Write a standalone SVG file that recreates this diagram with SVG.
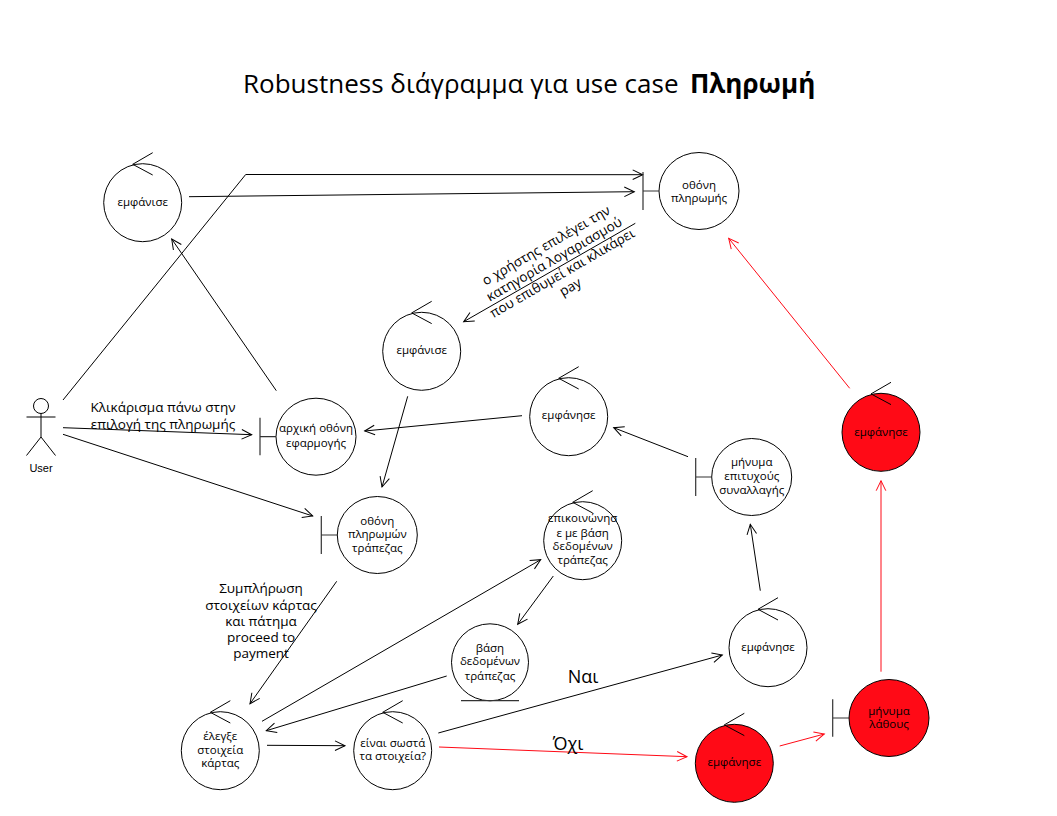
<svg xmlns="http://www.w3.org/2000/svg" width="1057" height="816" viewBox="0 0 1057 816">
<style>
text{font-family:"Open Sans","Noto Sans",sans-serif;fill:#000;text-anchor:middle}
.n{font-size:11.5px}
.l{font-size:13.500px}
.c{fill:#fff;stroke:#000;stroke-width:1}
.r{fill:#ff0a16}
.s{fill:none;stroke:#000;stroke-width:1}
.b{fill:none;stroke:#333;stroke-width:1.2}
.k{fill:none;stroke:#000;stroke-width:1;marker-end:url(#a)}
.e{fill:none;stroke:#ff0a16;stroke-width:1;marker-end:url(#ar)}
</style>
<defs>
<marker id="a" markerUnits="userSpaceOnUse" markerWidth="14" markerHeight="14" refX="11" refY="6" orient="auto"><path d="M1 1.2L11 6L1 10.8" fill="none" stroke="#000"/></marker>
<marker id="ar" markerUnits="userSpaceOnUse" markerWidth="14" markerHeight="14" refX="11" refY="6" orient="auto"><path d="M1 1.2L11 6L1 10.8" fill="none" stroke="#ff0a16"/></marker>
</defs>
<rect width="1057" height="816" fill="#fff"/>
<text x="243" y="93" font-size="26" style="text-anchor:start">Robustness διάγραμμα για use case</text>
<text x="690" y="93" font-size="26" font-weight="700" style="text-anchor:start">Πληρωμή</text>
<g id="connectors">
<path class="k" d="M63 400L245.700 174.500L642.700 174.700"/>
<path class="k" d="M189 196.700L634.300 191.700"/>
<path class="k" d="M276.300 390.700L171.700 239"/>
<path class="k" d="M63 427.700L251.700 434.700"/>
<path class="k" d="M63 434.300L312.700 516"/>
<path class="k" d="M635.300 223.300L463.700 321.700"/>
<path class="k" d="M407.700 396.300L382 487"/>
<path class="k" d="M522 415.700L364.700 431"/>
<path class="k" d="M688 456.700L613.700 427.700"/>
<path class="k" d="M760.300 590.700L750.300 524.300"/>
<path class="k" d="M438.300 733L722.300 655"/>
<path class="k" d="M336.700 581.300L250 703.700"/>
<path class="k" d="M262 721.300L540.700 559.700"/>
<path class="k" d="M553.300 576L517.700 624.300"/>
<path class="k" d="M446.700 676L266.300 730.700"/>
<path class="k" d="M267 745.300L345 745.700"/>
<path class="e" d="M439 747L687 756.700"/>
<path class="e" d="M779.700 746L824.300 734"/>
<path class="e" d="M881 671.700L881 480.700"/>
<path class="e" d="M849.700 388.300L728.700 238.300"/>
</g>
<g id="user">
<circle class="s" cx="41" cy="406" r="7.500"/>
<path class="s" d="M41 413.500V437M26.500 417H55.500M41 437L26.500 455.500M41 437L55.500 455.500"/>
<text x="41" y="472" font-size="11" style="font-family:'Liberation Sans',sans-serif">User</text>
</g>
<g id="ctrl-emfanise-1">
<circle class="c" cx="142.700" cy="202.700" r="39"/>
<path class="s" d="M152.700 152.700L132.700 164.300L152.700 175"/>
<text class="n" x="142.700" y="206">εμφάνισε</text>
</g>
<g id="boundary-othoni-pliromis">
<ellipse class="c" cx="699" cy="191" rx="40" ry="38.500"/>
<path class="b" d="M643 172V210M643 191H659"/>
<text class="n" x="699" y="189">οθόνη</text>
<text class="n" x="699" y="202">πληρωμής</text>
</g>
<g id="ctrl-emfanise-2">
<circle class="c" cx="421.700" cy="351.300" r="39"/>
<path class="s" d="M431.700 301.300L411.700 312.900L431.700 323.600"/>
<text class="n" x="421.700" y="354">εμφάνισε</text>
</g>
<g id="ctrl-emfanise-3">
<circle class="c" cx="568.700" cy="416.700" r="39"/>
<path class="s" d="M578.700 366.700L558.700 378.300L578.700 389"/>
<text class="n" x="568.700" y="419">εμφάνησε</text>
</g>
<g id="boundary-arxiki">
<ellipse class="c" cx="316" cy="436.700" rx="40" ry="38.500"/>
<path class="b" d="M260 417.700V455.300M260 436.700H276"/>
<text class="n" x="316" y="432">αρχική οθόνη</text>
<text class="n" x="316" y="447">εφαρμογής</text>
</g>
<g id="boundary-othoni-trapezas">
<ellipse class="c" cx="377.300" cy="535" rx="40" ry="38.500"/>
<path class="b" d="M321.300 516V554M321.300 535H337.300"/>
<text class="n" x="377.300" y="525">οθόνη</text>
<text class="n" x="377.300" y="538">πληρωμών</text>
<text class="n" x="377.300" y="552">τράπεζας</text>
</g>
<g id="ctrl-epikoinonise">
<circle class="c" cx="582.700" cy="540.700" r="39"/>
<path class="s" d="M592.700 490.700L572.700 502.300L592.700 513"/>
<text class="n" x="582.700" y="522">επικοινώνησ</text>
<text class="n" x="582.700" y="537">ε με βάση</text>
<text class="n" x="582.700" y="550">δεδομένων</text>
<text class="n" x="582.700" y="564">τράπεζας</text>
</g>
<g id="entity-vasi">
<circle class="c" cx="490" cy="662.300" r="38.500"/>
<path class="b" d="M461 700.700H519"/>
<text class="n" x="490" y="652">βάση</text>
<text class="n" x="490" y="665">δεδομένων</text>
<text class="n" x="490" y="680">τράπεζας</text>
</g>
<g id="boundary-minima-epit">
<ellipse class="c" cx="751.700" cy="477" rx="40" ry="38.500"/>
<path class="b" d="M695.700 458V496M695.700 477H711.700"/>
<text class="n" x="751.700" y="466">μήνυμα</text>
<text class="n" x="751.700" y="480">επιτυχούς</text>
<text class="n" x="751.700" y="494">συναλλαγής</text>
</g>
<g id="ctrl-emfanhse-4">
<circle class="c" cx="768" cy="647.700" r="39"/>
<path class="s" d="M778 597.700L758 609.300L778 620"/>
<text class="n" x="768" y="651">εμφάνησε</text>
</g>
<g id="ctrl-elegxe">
<circle class="c" cx="220.300" cy="750.700" r="39"/>
<path class="s" d="M230.300 700.700L210.300 712.300L230.300 723"/>
<text class="n" x="220.300" y="740">έλεγξε</text>
<text class="n" x="220.300" y="754">στοιχεία</text>
<text class="n" x="220.300" y="767">κάρτας</text>
</g>
<g id="ctrl-einai">
<circle class="c" cx="392.700" cy="750.700" r="39"/>
<path class="s" d="M402.700 700.700L382.700 712.300L402.700 723"/>
<text class="n" x="392.700" y="747">είναι σωστά</text>
<text class="n" x="392.700" y="760">τα στοιχεία?</text>
</g>
<g id="ctrl-red-bottom">
<circle class="c r" cx="734.300" cy="763.300" r="39"/>
<path class="s" d="M744.300 713.300L724.300 724.900L744.300 735.600"/>
<text class="n" x="734.300" y="766">εμφάνησε</text>
</g>
<g id="boundary-lathous">
<ellipse class="c r" cx="889" cy="718" rx="40" ry="38.500"/>
<path class="b" d="M832.700 699.300V736.700M832.700 718H849"/>
<text class="n" x="889" y="715">μήνυμα</text>
<text class="n" x="889" y="728">λάθους</text>
</g>
<g id="ctrl-red-right">
<circle class="c r" cx="881" cy="432.300" r="39"/>
<path class="s" d="M891 382.300L871 393.900L891 404.600"/>
<text class="n" x="881" y="436">εμφάνησε</text>
</g>
<g id="labels">
<text class="l" x="163" y="412">Κλικάρισμα πάνω στην</text>
<text class="l" x="163" y="429">επιλογή της πληρωμής</text>
<g transform="translate(4 5) rotate(-30 557 266)">
<text class="l" x="557" y="241">ο χρήστης επιλέγει την</text>
<text class="l" x="557" y="257">κατηγορία λογαριασμού</text>
<text class="l" x="557" y="273">που επιθυμεί και κλικάρει</text>
<text class="l" x="557" y="289">pay</text>
</g>
<text class="l" x="261" y="593">Συμπλήρωση</text>
<text class="l" x="261" y="610">στοιχείων κάρτας</text>
<text class="l" x="261" y="626">και πάτημα</text>
<text class="l" x="261" y="642">proceed to</text>
<text class="l" x="261" y="658">payment</text>
<text x="583" y="683" font-size="18">Ναι</text>
<text x="568" y="750" font-size="18">Όχι</text>
</g>
</svg>
